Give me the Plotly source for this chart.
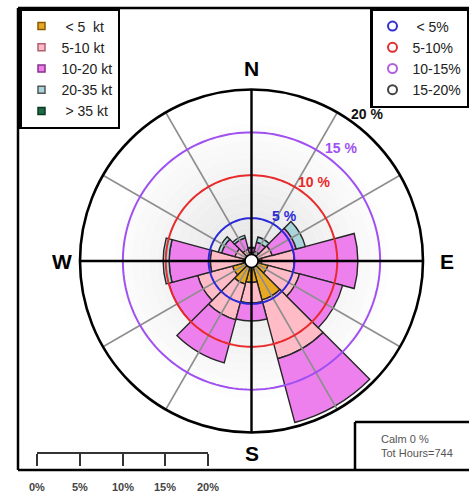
import math
import plotly.graph_objects as go

# ---------------- data ----------------
directions = [0, 30, 60, 90, 120, 150, 180, 210, 240, 270, 300, 330]
speed_labels = ["\u00a0<\u00a05\u00a0\u00a0kt", "5-10 kt", "10-20 kt", "20-35 kt", "\u00a0>\u00a035 kt"]
lt5    = [0.5, 0.5, 0.6, 1.2, 2.0, 4.7, 2.5, 2.8, 2.3, 1.0, 0.8, 0.6]
s5_10  = [0.5, 0.7, 1.9, 3.8, 3.8, 7.1, 2.4, 4.3, 4.2, 3.8, 1.2, 0.8]
s10_20 = [0.5, 1.1, 2.9, 7.4, 5.2, 7.7, 2.1, 5.2, 3.5, 4.8, 1.6, 1.4]
s20_35 = [0.1, 0.6, 1.1, 0.0, 0.0, 0.0, 0.0, 0.0, 0.0, 0.7, 0.4, 0.3]
gt35   = [0.0] * 12
ring_values = [5, 10, 15, 20]
ring_legend = ["\u00a0<\u00a05%", "5-10%", "10-15%", "15-20%"]
scale_ticks = [0, 5, 10, 15, 20]
calm_text = "Calm 0 %<br>Tot Hours=744"

# ---------------- styles ----------------
class_fill = ["#E8A822", "#FFBCC6", "#EE80EE", "#A8D6DA", "#1F6B45"]
class_edge = ["#8A5A00", "#B06070", "#8A308A", "#555555", "#0A3A20"]
ring_colors = ["#2A2AD8", "#E82A2A", "#A050F0", "#111111"]
ring_legend_colors = ["#3030D0", "#E03030", "#B060E0", "#444444"]
FONT = "Liberation Sans, Arial, sans-serif"

W, H = 469, 494
CX, CY, RPX = 251.5, 261.0, 171.5
RMAX = 20.0


def px(x):
    return x / W


def py(y):
    return 1 - y / H


def pol(r, theta):
    k = r / RMAX * RPX
    t = math.radians(theta)
    return px(CX + k * math.sin(t)), py(CY - k * math.cos(t))


fig = go.Figure()

# background radial gradient
nbg = 20
fig.add_trace(go.Barpolar(
    theta=[0] * nbg, r=[RMAX / nbg] * nbg, base=[i * RMAX / nbg for i in range(nbg)],
    width=[360] * nbg,
    marker=dict(color=["rgb({0},{0},{0})".format(int(228 + 27 * min(i / 16.0, 1.0))) for i in range(nbg)],
                line=dict(width=0)),
    showlegend=False, hoverinfo="skip"))

# wind rose bars (stacked via base)
classes = [lt5, s5_10, s10_20, s20_35, gt35]
cum = [0.0] * len(directions)
for ci, vals in enumerate(classes):
    th, rr, bb = [], [], []
    for i, v in enumerate(vals):
        if v > 0:
            th.append(directions[i]); rr.append(v); bb.append(cum[i])
    if th:
        fig.add_trace(go.Barpolar(
            theta=th, r=rr, base=bb, width=[30] * len(th),
            marker=dict(color=class_fill[ci], line=dict(color="#262626", width=1.4)),
            showlegend=False, name=speed_labels[ci]))
    cum = [c + v for c, v in zip(cum, vals)]

# gray spokes
gth, grr = [], []
for a in range(30, 360, 30):
    if a % 90:
        gth += [a, a, None]; grr += [0, RMAX, None]
fig.add_trace(go.Scatterpolar(theta=gth, r=grr, mode="lines",
                              line=dict(color="#8E8E8E", width=1.6), showlegend=False, hoverinfo="skip"))

# rings
circ = list(range(0, 361, 2))
for rv, col in zip(ring_values[:3], ring_colors[:3]):
    fig.add_trace(go.Scatterpolar(theta=circ, r=[rv] * len(circ), mode="lines",
                                  line=dict(color=col, width=2), showlegend=False, hoverinfo="skip"))

# black cardinal lines
bth, brr = [], []
for a in [0, 90, 180, 270]:
    bth += [a, a, None]; brr += [0, RMAX, None]
fig.add_trace(go.Scatterpolar(theta=bth, r=brr, mode="lines",
                              line=dict(color="black", width=2.4), showlegend=False, hoverinfo="skip"))

# centre calm circle
fig.add_trace(go.Scatterpolar(theta=[0], r=[0], mode="markers",
                              marker=dict(size=13, color="white", line=dict(color="black", width=1.5)),
                              showlegend=False, hoverinfo="skip"))

# legend entries
for lab, f, e in zip(speed_labels, class_fill, class_edge):
    fig.add_trace(go.Scatter(x=[None], y=[None], mode="markers", name=lab, legend="legend",
                             marker=dict(symbol="square", size=7, color=f, line=dict(color=e, width=1.5))))
for lab, c in zip(ring_legend, ring_legend_colors):
    fig.add_trace(go.Scatter(x=[None], y=[None], mode="markers", name=lab, legend="legend2",
                             marker=dict(symbol="circle-open", size=9, color=c, line=dict(color=c, width=2))))

annotations = []
# compass letters
for lab, a, rr_ in zip(["N", "E", "S", "W"], [0, 90, 180, 270], [22.5, 22.8, 22.4, 22.1]):
    x, y = pol(rr_, a)
    annotations.append(dict(x=x, y=y, xref="paper", yref="paper", text=lab, showarrow=False,
                            xanchor="center", yanchor="middle",
                            font=dict(size=21, family=FONT, color="black", weight="bold")))
# ring labels (left edge of each label sits just outside its ring)
for rv, col in zip(ring_values, ring_colors):
    x, y = pol(rv + 1.7, 38)
    annotations.append(dict(x=x - px(17), y=y, xref="paper", yref="paper", text="%d %%" % rv,
                            showarrow=False, xanchor="left", yanchor="middle",
                            font=dict(size=14, family=FONT, color=col, weight="bold")))
# scale labels
for v in scale_ticks:
    annotations.append(dict(x=v, y=py(487), xref="x", yref="paper", text="%d%%" % v, showarrow=False,
                            xanchor="center", yanchor="middle",
                            font=dict(size=11, family=FONT, color="#444444", weight="bold")))
# calm text
annotations.append(dict(x=px(379), y=py(446), xref="paper", yref="paper", text=calm_text, showarrow=False,
                        xanchor="left", yanchor="middle", align="left",
                        font=dict(size=11, family=FONT, color="#555555")))

# frame (open on the right, as the picture is cropped there)
frame_line = dict(color="black", width=2.5)
shapes = [
    dict(type="line", xref="paper", yref="paper", x0=px(18), x1=1, y0=py(8), y1=py(8), line=frame_line),
    dict(type="line", xref="paper", yref="paper", x0=px(18), x1=px(18), y0=py(8), y1=py(470), line=frame_line),
    dict(type="line", xref="paper", yref="paper", x0=px(18), x1=1, y0=py(470), y1=py(470), line=frame_line),
    dict(type="line", xref="paper", yref="paper", x0=px(355), x1=1, y0=py(422), y1=py(422), line=frame_line),
    dict(type="line", xref="paper", yref="paper", x0=px(355), x1=px(355), y0=py(422), y1=py(470), line=frame_line),
]

fig.update_layout(
    width=W, height=H, margin=dict(l=0, r=0, t=0, b=0),
    paper_bgcolor="white", plot_bgcolor="rgba(0,0,0,0)",
    font=dict(family=FONT),
    polar=dict(
        domain=dict(x=[px(CX - RPX), px(CX + RPX)], y=[py(CY + RPX), py(CY - RPX)]),
        bgcolor="white", barmode="overlay",
        angularaxis=dict(rotation=90, direction="clockwise", showticklabels=False, ticks="",
                         showgrid=False, showline=True, linecolor="black", linewidth=2.6),
        radialaxis=dict(range=[0, RMAX], visible=False),
    ),
    xaxis=dict(domain=[px(37), px(208)], range=[0, 20], anchor="y", showline=True, linecolor="#333333",
               linewidth=2, ticks="outside", ticklen=12, tickwidth=2, tickcolor="#333333",
               tickvals=scale_ticks, showticklabels=False, showgrid=False, zeroline=False, fixedrange=True),
    yaxis=dict(domain=[py(452), py(440)], visible=False, range=[0, 1], fixedrange=True),
    legend=dict(x=px(19), y=py(8), xanchor="left", yanchor="top", bordercolor="black", borderwidth=2.5,
                bgcolor="white", font=dict(size=14, family=FONT, color="#222222"), tracegroupgap=0),
    legend2=dict(x=1.0, y=py(8), xanchor="right", yanchor="top", bordercolor="black", borderwidth=2.5,
                 bgcolor="white", font=dict(size=14, family=FONT, color="#222222"), tracegroupgap=0),
    annotations=annotations, shapes=shapes, showlegend=True,
)

page_fix = "document.documentElement.style.margin='0px';document.body.style.margin='0px';"
fig.write_html("out.html", config={"displayModeBar": False}, post_script=page_fix)
